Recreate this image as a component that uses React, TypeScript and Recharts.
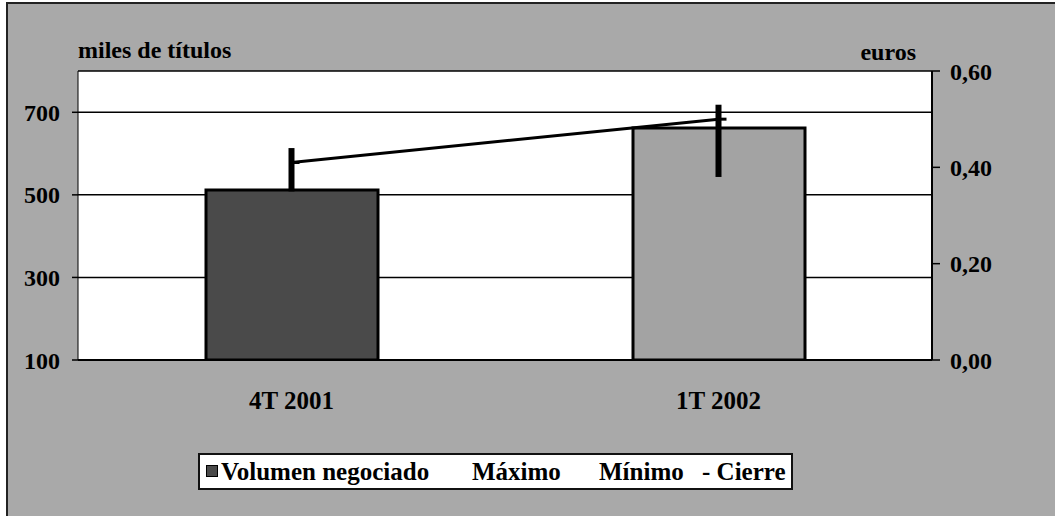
import React from 'react';
import {
  ComposedChart,
  Bar,
  Line,
  XAxis,
  YAxis,
  CartesianGrid,
  Cell,
  ErrorBar,
} from 'recharts';

const categories = ['4T 2001', '1T 2002'];
const volumen = [512, 662];
const maximo = [0.44, 0.53];
const minimo = [0.35, 0.38];
const cierre = [0.41, 0.5];
const barColors = ['#4a4a4a', '#a3a3a3'];
const leftTicks = [100, 300, 500, 700];
const rightTicks = [0, 0.2, 0.4, 0.6];
const leftTitle = 'miles de títulos';
const rightTitle = 'euros';
const legendLabels = ['Volumen negociado', 'Máximo', 'Mínimo', 'Cierre'];

const data = categories.map((cat, i) => ({
  cat,
  vol: volumen[i],
  close: cierre[i],
  hl: [cierre[i] - minimo[i], maximo[i] - cierre[i]],
}));

const FONT = '"Liberation Serif", "Times New Roman", serif';
const W = 1055;
const H = 516;

const tickStyle = { fill: '#000', fontSize: 24, fontWeight: 'bold', fontFamily: FONT };
const xTickStyle = { fill: '#000', fontSize: 25, fontWeight: 'bold', fontFamily: FONT };

const CloseTick = (props: any) => {
  const { cx, cy } = props;
  if (cx == null || cy == null) return null;
  return <line x1={cx - 2} y1={cy} x2={cx + 8} y2={cy} stroke="#000" strokeWidth={3} />;
};

const fmtRight = (v: number) => v.toFixed(2).replace('.', ',');

export default function App() {
  return (
    <div style={{ position: 'absolute', left: 0, top: 0, width: W, height: H, background: '#fff', overflow: 'hidden', fontFamily: FONT }}>
      <div
        style={{
          position: 'absolute',
          left: 6,
          top: 2,
          width: W - 6,
          height: H - 2,
          background: '#a9a9a9',
          borderLeft: '2px solid #222',
          borderTop: '2px solid #222',
          boxSizing: 'border-box',
        }}
      />
      <div style={{ position: 'absolute', left: 0, top: 0 }}>
        <ComposedChart width={W} height={H} data={data} margin={{ top: 71, right: 0, bottom: 96, left: 0 }}>
          <CartesianGrid yAxisId="left" vertical={false} stroke="#000" strokeWidth={1.5} fill="#fff" fillOpacity={1} />
          <XAxis
            dataKey="cat"
            height={60}
            tickLine={false}
            tickSize={0}
            tickMargin={31}
            axisLine={{ stroke: '#000', strokeWidth: 2 }}
            tick={xTickStyle}
            interval={0}
          />
          <YAxis
            yAxisId="left"
            domain={[100, 800]}
            ticks={leftTicks}
            width={78}
            tickSize={6}
            tickMargin={12}
            axisLine={{ stroke: '#000', strokeWidth: 1 }}
            tickLine={{ stroke: '#000', strokeWidth: 1.5 }}
            tick={tickStyle}
            allowDataOverflow
          />
          <YAxis
            yAxisId="right"
            orientation="right"
            domain={[0, 0.6]}
            ticks={rightTicks}
            width={123}
            tickSize={8}
            tickMargin={10}
            tickFormatter={fmtRight}
            axisLine={{ stroke: '#000', strokeWidth: 2 }}
            tickLine={{ stroke: '#000', strokeWidth: 1.5 }}
            tick={tickStyle}
            allowDataOverflow
          />
          <Bar yAxisId="left" dataKey="vol" barSize={172} stroke="#000" strokeWidth={3} isAnimationActive={false}>
            {data.map((d, i) => (
              <Cell key={d.cat} fill={barColors[i]} stroke="#000" strokeWidth={3} />
            ))}
          </Bar>
          <Line
            yAxisId="right"
            dataKey="close"
            stroke="#000"
            strokeWidth={3}
            dot={<CloseTick />}
            activeDot={false}
            isAnimationActive={false}
          >
            <ErrorBar dataKey="hl" direction="y" width={0} stroke="#000" strokeWidth={6} isAnimationActive={false} />
          </Line>
        </ComposedChart>
      </div>
      <div style={{ position: 'absolute', left: 78, top: 37, fontSize: 24, lineHeight: '26px', fontWeight: 'bold', color: '#000', whiteSpace: 'nowrap' }}>
        {leftTitle}
      </div>
      <div style={{ position: 'absolute', right: W - 916, top: 39, fontSize: 24, lineHeight: '26px', fontWeight: 'bold', color: '#000', whiteSpace: 'nowrap' }}>
        {rightTitle}
      </div>
      <div
        style={{
          position: 'absolute',
          left: 198,
          top: 453,
          width: 595,
          height: 37,
          background: '#fff',
          border: '2px solid #111',
          boxSizing: 'border-box',
          fontSize: 25,
          fontWeight: 'bold',
          color: '#000',
          lineHeight: '33px',
          whiteSpace: 'nowrap',
        }}
      >
        <div style={{ position: 'absolute', left: 6, top: 10, width: 12, height: 12, background: barColors[0], border: '1px solid #000', boxSizing: 'border-box' }} />
        <div style={{ position: 'absolute', left: 21, top: 0 }}>{legendLabels[0]}</div>
        <div style={{ position: 'absolute', left: 272, top: 0 }}>{legendLabels[1]}</div>
        <div style={{ position: 'absolute', left: 399, top: 0 }}>{legendLabels[2]}</div>
        <div style={{ position: 'absolute', left: 502, top: 0 }}>{'- ' + legendLabels[3]}</div>
      </div>
    </div>
  );
}
